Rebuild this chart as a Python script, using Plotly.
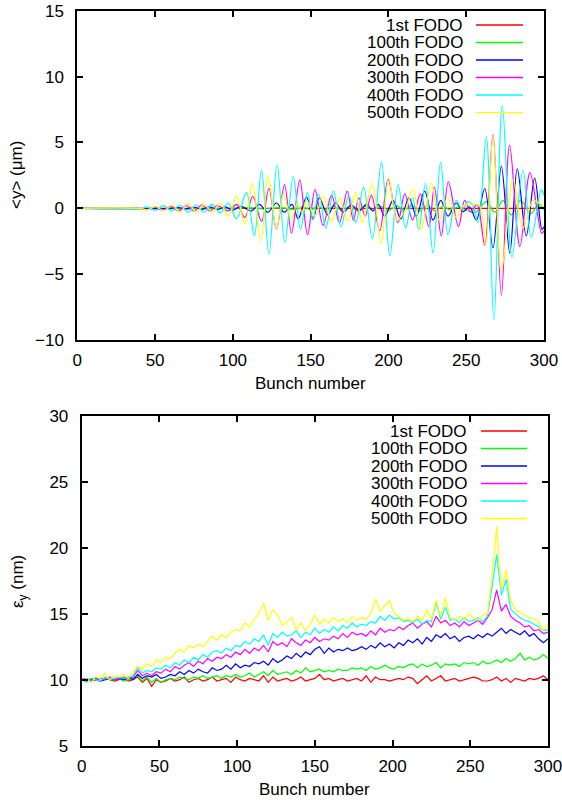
import plotly.graph_objects as go

# ---------------- data ----------------
labels = ["1st FODO", "100th FODO", "200th FODO", "300th FODO", "400th FODO", "500th FODO"]
colors = ["#ff0000", "#00ff00", "#0000ff", "#ff00ff", "#00ffff", "#ffff00"]

x_ticks = [0, 50, 100, 150, 200, 250, 300]
top_y_ticks = [-10, -5, 0, 5, 10, 15]
bot_y_ticks = [5, 10, 15, 20, 25, 30]

# Top panel: <y> (um), turning points of each trace
top_x_1st = [0, 100, 200, 300]
top_y_1st = [0, 0, 0, 0]

top_x_100 = [0, 100, 110, 120, 130, 140, 145, 150, 155, 160, 165, 170, 175, 180, 185, 190, 195, 200,
             205, 210, 215, 220, 225, 230, 235, 240, 245, 250, 256, 263, 268.3, 273.6, 279, 285,
             291.5, 296.5, 300]
top_y_100 = [0, 0, 0.05, -0.05, 0.05, -0.08, 0.1, -0.1, 0.12, -0.1, 0.12, -0.12, 0.1, -0.12, 0.15,
             -0.15, 0.15, -0.18, 0.2, -0.15, 0.2, -0.2, 0.2, -0.2, 0.15, -0.15, 0.1, -0.15, -0.3,
             0.5, -0.3, 0.6, -0.5, 0.6, -0.4, 0.3, -0.1]

top_x_200 = [0, 60, 65, 70, 75, 80, 85, 90, 95, 100, 105, 112, 117, 122.5, 128, 133, 138, 142,
             147.3, 151.6, 155.5, 161, 166, 171, 176, 181, 186, 190, 193.5, 197.6, 203, 207.9,
             213.2, 218, 223.3, 228.7, 233.6, 238.3, 243.6, 248, 252.2, 256.5, 261.9, 267.2,
             272.6, 278, 282.8, 288.6, 294, 298.7, 300]
top_y_200 = [0, 0, 0.05, -0.05, 0.08, -0.08, 0.1, -0.1, 0.1, -0.15, 0.15, -0.2, 0.3, -0.3, 0.4,
             -0.3, 0.3, -0.8, 0.85, -0.8, 0.8, -0.5, 0.4, -0.3, 0.25, -0.2, 0.3, -0.2, 0.3, -0.6,
             0.6, -0.8, 0.8, -0.6, 1.3, -0.9, 0.6, -0.6, 0.4, -0.25, 0.1, -0.9, 1.5, -3.0, 3.2,
             -3.4, 3.0, -2.1, 2.3, -1.6, -1.4]

top_x_300 = [0, 40, 45, 50, 55, 60, 65, 70, 75, 80, 85, 90, 97, 102.5, 107.7, 112.8, 118.4, 123.2,
             128, 133.2, 137.7, 143, 148, 152.8, 158, 163.4, 168.5, 173.5, 177.5, 181, 185, 189,
             194.4, 199.8, 206, 210.5, 215.5, 220.5, 226, 229.5, 234, 238.5, 245, 249, 253, 257,
             261.9, 267.2, 272.6, 277.9, 284.5, 291, 298.5, 300]
top_y_300 = [0, 0, -0.1, 0.1, -0.15, 0.15, -0.2, 0.2, -0.2, 0.25, -0.2, 0.2, -0.2, 0.3, -0.7, 0.9,
             -1.0, 1.5, -1.6, 1.8, -1.9, 2.15, -2.0, 1.4, -1.3, 1.0, -1.1, 1.3, -0.9, 0.8, -0.6,
             1.0, -1.7, 2.2, -1.1, 1.1, -0.9, 1.1, -1.4, 1.6, -2.1, 2.0, -1.4, 0.6, -0.3, 0.3,
             -2.8, 5.6, -6.6, 4.8, -2.9, 2.7, -1.9, -1.7]

top_x_400 = [0, 35, 40, 45, 50.4, 55.4, 60.8, 65.8, 71.2, 76.2, 81.6, 86.6, 92, 97, 102.4, 108.7,
             113.8, 118.4, 123.2, 128.4, 133.4, 138.8, 143.5, 148, 151.5, 155, 159.8, 164.6, 169.5,
             174.5, 179, 184, 189.7, 195.5, 200.9, 206.2, 211, 215.5, 219.5, 223.8, 228.7, 233.5,
             238.3, 243.5, 247.5, 251, 254, 257.6, 262.9, 267.8, 273.2, 279.4, 286.5, 291.8,
             298.3, 300]
top_y_400 = [0, 0, -0.05, 0.1, -0.15, 0.2, -0.2, 0.25, -0.3, 0.25, -0.3, 0.3, -0.35, 0.4, -0.8,
             1.2, -2.1, 2.9, -3.5, 3.3, -2.6, 2.4, -1.6, 1.2, -0.9, 1.1, -1.5, 1.3, -1.4, 1.0,
             -1.1, 1.6, -2.3, 3.5, -3.6, 1.8, -1.5, 0.8, -1.6, 1.9, -3.4, 3.5, -2.0, 0.6, -0.1,
             0.5, 0.3, -1.1, 5.4, -8.5, 7.8, -3.7, 2.9, -2.2, 1.4, 1.0]

top_x_500 = [0, 40, 45, 50.5, 55.5, 61, 66, 71, 76.5, 81.5, 86.5, 92, 97, 102.4, 107.7, 112.6, 118,
             122.7, 128, 132.5, 137.5, 141.5, 144.5, 147.5, 152.7, 158, 163.4, 168.7, 173.8, 178.8,
             183.2, 189.5, 195.3, 200.2, 205.5, 210.5, 215.8, 221, 227.6, 232.5, 238, 243.5, 248,
             253, 258.5, 262.5, 267.2, 272.6, 280, 286.5, 293, 299, 300]
top_y_500 = [0, 0, -0.1, 0.15, -0.2, 0.25, -0.3, 0.35, -0.3, 0.3, -0.3, 0.35, -0.6, 0.9, -1.2, 1.9,
             -2.5, 2.5, -1.6, 1.1, -0.8, 0.4, -0.3, 0.6, -0.6, 0.9, -1.0, 0.8, -1.0, 1.2, -1.1,
             1.9, -2.7, 2.3, -0.9, -0.2, 1.4, -1.6, 1.9, -0.9, 0.8, -0.7, 0.2, 0.3, 0.2, -2.8,
             5.5, -4.8, 2.2, -1.5, 0.6, 0.2, 0.2]

# Bottom panel: eps_y (nm), sampled every 3 bunches (0, 3, ..., 300)
bunch_bottom = list(range(0, 301, 3))
eps_1st = [10.0, 10.1, 9.9, 10.0, 9.9, 10.1, 10.0, 9.9, 10.0, 10.1,
           9.9, 10.0, 10.2, 9.8, 10.1, 9.5, 10.0, 9.8, 9.9, 10.1,
           9.9, 10.0, 10.2, 9.8, 10.0, 10.1, 9.9, 10.0, 10.2, 9.9,
           10.0, 10.1, 9.8, 10.2, 10.0, 9.9, 10.1, 10.0, 9.9, 10.3,
           9.8, 10.2, 9.9, 10.0, 10.1, 9.9, 10.0, 10.2, 9.9, 10.0,
           10.1, 10.4, 10.0, 10.1, 9.9, 10.0, 10.1, 9.9, 10.0, 10.1,
           9.9, 10.3, 9.8, 10.2, 10.0, 10.0, 9.9, 10.0, 10.1, 10.0,
           10.2, 10.1, 9.7, 10.0, 10.3, 9.9, 10.1, 10.3, 9.9, 10.0,
           10.1, 9.9, 10.0, 10.1, 10.2, 10.1, 9.9, 9.9, 10.0, 10.2,
           9.9, 10.1, 9.8, 10.1, 10.0, 9.9, 10.1, 10.0, 10.1, 10.3,
           10.0]
eps_100 = [10.0, 9.9, 10.1, 10.0, 9.9, 10.1, 10.0, 10.0, 10.1, 9.9,
           10.0, 10.1, 10.3, 9.9, 10.2, 9.8, 10.1, 9.8, 10.0, 10.1,
           10.0, 10.2, 10.1, 10.0, 10.2, 10.1, 10.3, 10.1, 10.2, 10.3,
           10.1, 10.3, 10.2, 10.4, 10.2, 10.3, 10.5, 10.2, 10.4, 10.6,
           10.3, 10.7, 10.4, 10.5, 10.6, 10.4, 10.7, 10.5, 10.9, 10.6,
           10.7, 10.8, 10.6, 10.7, 10.6, 10.8, 10.7, 10.7, 10.9, 10.8,
           10.9, 10.7, 11.0, 10.8, 10.9, 11.1, 10.9, 10.8, 11.0, 10.9,
           11.1, 11.2, 10.9, 11.2, 11.0, 11.1, 11.3, 10.9, 11.2, 11.1,
           11.2, 11.0, 11.3, 11.2, 11.3, 11.1, 11.4, 11.2, 11.3, 11.5,
           11.3, 11.6, 11.4, 11.6, 12.0, 11.5, 11.7, 11.5, 11.6, 11.9,
           11.6]
eps_200 = [10.0, 9.9, 10.0, 10.1, 9.9, 10.0, 10.1, 10.0, 10.1, 10.0,
           10.2, 10.0, 10.4, 10.1, 10.3, 10.2, 10.4, 10.1, 10.2, 10.4,
           10.3, 10.6, 10.4, 10.7, 10.5, 10.8, 10.6, 10.5, 10.9, 10.7,
           10.8, 11.1, 10.8, 11.2, 10.9, 11.1, 11.0, 11.3, 11.2, 11.4,
           11.1, 11.6, 11.3, 11.5, 11.8, 11.6, 12.0, 11.7, 12.1, 11.9,
           12.3, 12.5, 12.0, 12.4, 12.1, 12.3, 12.2, 12.4, 12.2, 12.3,
           12.5, 12.3, 12.6, 12.4, 12.8, 12.5, 12.7, 12.4, 12.8, 12.6,
           13.0, 12.8, 13.1, 12.7, 13.2, 12.9, 13.4, 13.2, 13.5, 13.1,
           13.3, 12.9, 13.2, 13.3, 13.1, 13.4, 13.2, 13.5, 13.3, 13.6,
           13.9, 13.5, 13.8, 13.6, 13.4, 13.7, 13.3, 13.5, 13.1, 12.8,
           13.1]
eps_300 = [10.0, 10.1, 9.9, 10.0, 10.1, 10.0, 10.2, 10.0, 10.1, 10.2,
           10.1, 10.2, 10.7, 10.3, 10.5, 10.3, 10.6, 10.5, 10.8, 10.6,
           11.0, 10.8, 11.1, 11.3, 11.0, 11.4, 11.2, 11.6, 11.4, 11.7,
           11.6, 11.9, 11.7, 12.1, 11.9, 12.3, 12.0, 12.4, 12.2, 12.6,
           12.1, 12.9, 12.6, 12.8, 12.5, 13.1, 12.8, 12.6, 13.0, 12.8,
           13.2, 12.9, 13.1, 13.0, 13.3, 13.1, 13.5, 13.2, 13.6, 13.4,
           13.5, 13.3, 13.7, 13.4, 13.9, 13.6, 13.8, 13.7, 14.0, 13.8,
           14.1, 14.3, 13.9, 14.2, 14.4, 14.0, 14.8, 14.3, 14.5, 14.1,
           14.3, 14.0, 14.4, 14.1, 14.3, 14.5, 14.2, 14.7, 15.3, 16.8,
           15.2, 15.7, 14.8, 14.5, 14.3, 14.0, 14.1, 13.7, 13.8, 13.5,
           13.6]
eps_400 = [10.0, 9.8, 10.1, 10.0, 9.9, 10.2, 10.0, 10.1, 10.2, 10.1,
           10.2, 10.3, 10.9, 10.5, 10.7, 10.6, 10.9, 10.8, 11.1, 10.9,
           11.3, 11.1, 11.5, 11.3, 11.7, 11.5, 11.9, 11.7, 12.1, 12.2,
           12.0, 12.4, 12.2, 12.6, 12.5, 12.9, 12.7, 13.1, 12.9, 13.4,
           12.6, 13.5, 13.2, 13.6, 13.3, 13.4, 13.7, 13.2, 13.6, 13.4,
           13.9, 13.5, 13.8, 13.6, 14.0, 13.7, 14.1, 13.9, 14.3, 14.0,
           14.2, 14.1, 14.4, 14.3, 14.8, 14.5, 14.9, 14.6, 14.7, 14.4,
           14.5, 14.3, 14.6, 14.2, 14.5, 14.4, 15.9, 14.6, 15.5, 14.5,
           14.6, 14.3, 14.7, 14.4, 14.5, 14.7, 14.4, 14.8, 17.0, 19.5,
           16.4, 17.6, 15.3, 15.0, 14.7, 14.5, 14.4, 14.2, 14.0, 13.7,
           13.8]
eps_500 = [9.9, 10.1, 9.8, 10.2, 10.1, 10.5, 10.0, 10.3, 10.2, 10.4,
           10.1, 10.6, 11.0, 10.8, 11.2, 11.0, 11.5, 11.3, 11.7, 11.6,
           12.0, 12.3, 12.1, 12.6, 12.4, 12.7, 12.5, 12.9, 13.3, 13.0,
           13.4, 13.2, 13.6, 13.8, 13.7, 14.3, 14.0, 14.6, 15.0, 15.8,
           14.5, 15.3, 14.9, 14.1, 14.4, 14.7, 13.8, 14.3, 13.7, 14.2,
           14.9, 14.2, 14.6, 14.3, 14.7, 14.4, 14.6, 14.3, 14.8, 14.5,
           14.7, 14.6, 15.0, 16.1, 15.2, 15.6, 16.0, 15.0, 14.8, 14.5,
           14.6, 14.4, 14.8, 14.5, 15.3, 14.6, 16.0, 14.8, 16.2, 14.7,
           14.5, 14.8, 14.6, 15.0, 14.7, 14.5, 14.9, 15.0, 17.8, 21.6,
           16.8, 18.3, 16.0, 15.3, 15.1, 14.9, 14.7, 14.6, 14.4, 13.7,
           14.2]

top_x = [top_x_1st, top_x_100, top_x_200, top_x_300, top_x_400, top_x_500]
top_y = [top_y_1st, top_y_100, top_y_200, top_y_300, top_y_400, top_y_500]
eps = [eps_1st, eps_100, eps_200, eps_300, eps_400, eps_500]

# ---------------- figure ----------------
W, H = 562, 802
FONT = "Liberation Sans"


def fx(p):
    return p / W


def fy(p):
    return 1 - p / H


fig = go.Figure()
for xs, ys, c, name in zip(top_x, top_y, colors, labels):
    fig.add_trace(go.Scatter(x=xs, y=ys, mode="lines", name=name,
                             line=dict(color=c, width=1.2, shape="spline", smoothing=1.0),
                             xaxis="x", yaxis="y", showlegend=False, hoverinfo="skip"))
for ys, c, name in zip(eps, colors, labels):
    fig.add_trace(go.Scatter(x=bunch_bottom, y=ys, mode="lines", name=name,
                             line=dict(color=c, width=1.2),
                             xaxis="x2", yaxis="y2", showlegend=False, hoverinfo="skip"))

axis_common = dict(showline=True, linecolor="black", linewidth=2, mirror="ticks",
                   ticks="inside", ticklen=6, tickwidth=1.5, tickcolor="black",
                   showgrid=False, zeroline=False, automargin=False,
                   ticklabeloverflow="allow",
                   tickfont=dict(family=FONT, size=17, color="black"))

fig.update_layout(
    width=W, height=H,
    margin=dict(l=0, r=0, t=0, b=0),
    paper_bgcolor="white", plot_bgcolor="white",
    showlegend=False,
    xaxis=dict(domain=[fx(77.3), fx(544)], anchor="y", range=[0, 300],
               tickvals=x_ticks, ticklabelstandoff=4, **axis_common),
    yaxis=dict(domain=[fy(340), fy(10.7)], anchor="x", range=[-10, 15],
               tickvals=top_y_ticks, ticklabelstandoff=8, **axis_common),
    xaxis2=dict(domain=[fx(81.7), fx(548)], anchor="y2", range=[0, 300],
                tickvals=x_ticks, ticklabelstandoff=4, **axis_common),
    yaxis2=dict(domain=[fy(745.7), fy(415.7)], anchor="x2", range=[5, 30],
                tickvals=bot_y_ticks, ticklabelstandoff=8, **axis_common),
)

ann_font = dict(family=FONT, size=17, color="black")
annotations = [
    dict(text="Bunch number", x=fx(310.7), y=fy(384), xref="paper", yref="paper",
         showarrow=False, font=ann_font, xanchor="center", yanchor="middle"),
    dict(text="Bunch number", x=fx(314.8), y=fy(789), xref="paper", yref="paper",
         showarrow=False, font=ann_font, xanchor="center", yanchor="middle"),
    dict(text="&lt;y&gt; (μm)", x=fx(16), y=fy(175), xref="paper", yref="paper",
         showarrow=False, font=ann_font, textangle=-90, xanchor="center", yanchor="middle"),
    dict(text="ε<sub>y</sub> (nm)", x=fx(19), y=fy(582), xref="paper", yref="paper",
         showarrow=False, font=ann_font, textangle=-90, xanchor="center", yanchor="middle"),
]
shapes = []
top_rows = [25, 42.5, 60, 77.5, 95, 112.7]
bot_rows = [431, 448.5, 466, 483.5, 501, 518.5]
for rows, tx, lx0, lx1 in [(top_rows, 464, 476, 523), (bot_rows, 468, 481, 527)]:
    for r, c, name in zip(rows, colors, labels):
        annotations.append(dict(text=name, x=fx(tx), y=fy(r), xref="paper", yref="paper",
                                showarrow=False, font=ann_font, xanchor="right",
                                yanchor="middle", borderpad=0))
        shapes.append(dict(type="line", xref="paper", yref="paper",
                           x0=fx(lx0), x1=fx(lx1), y0=fy(r), y1=fy(r),
                           line=dict(color=c, width=1.3)))

fig.update_layout(annotations=annotations, shapes=shapes)
# remove the browser's default 8px page margin so the 562x802 figure fills the window
fig.write_html("out.html", config={"displayModeBar": False},
               post_script="document.body.style.margin='0px';")
